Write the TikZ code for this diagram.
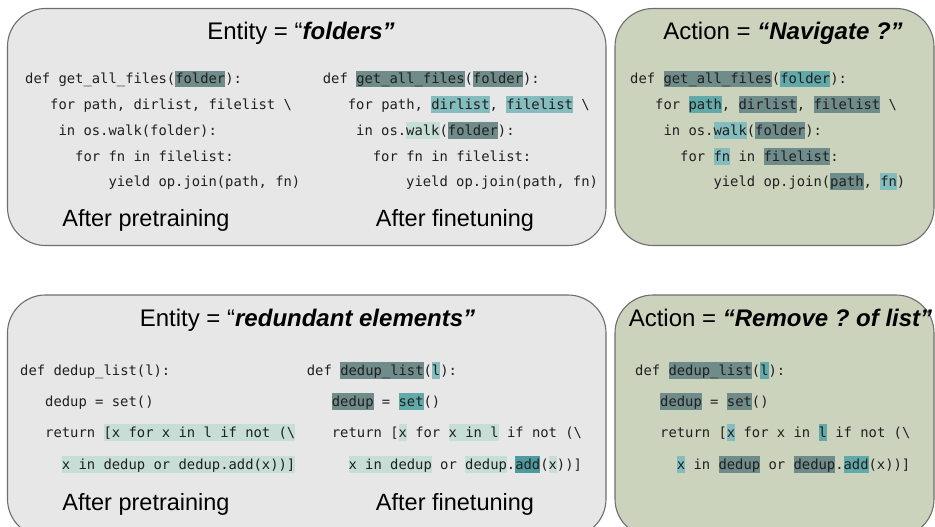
\documentclass[tikz,border=0pt]{standalone}
\usepackage{fontspec}
\setmainfont{Liberation Sans}
\newfontfamily\codefont{DejaVu Sans Mono}
\frenchspacing
\definecolor{panelgray}{HTML}{E7E7E7}
\definecolor{panelgreen}{HTML}{CBD3BC}
\definecolor{panelborder}{HTML}{6E6E6E}
\definecolor{txt}{HTML}{202020}
\definecolor{hlD}{HTML}{6F8C8A}
\definecolor{hlT}{HTML}{62A9AA}
\definecolor{hlM}{HTML}{85BCBD}
\definecolor{hlL}{HTML}{C6DED5}
\definecolor{hlA}{HTML}{4F9A9E}
\newcommand\hlbox[2]{{\setlength{\fboxsep}{0pt}\colorbox{#1}{\rule[-3.5pt]{0pt}{17pt}#2}}}
\newcommand\HD[1]{\hlbox{hlD}{#1}}
\newcommand\HT[1]{\hlbox{hlT}{#1}}
\newcommand\HM[1]{\hlbox{hlM}{#1}}
\newcommand\HL[1]{\hlbox{hlL}{#1}}
\newcommand\HA[1]{\hlbox{hlA}{#1}}
\tikzset{
  panelbox/.style={draw=panelborder, line width=1.1pt, rounded corners=38pt},
  codeln/.style={inner sep=0pt, anchor=base west, text=txt, font=\codefont\fontsize{13.85}{16}\selectfont},
  titletext/.style={inner sep=0pt, anchor=base, text=black, font=\fontsize{24}{28}\selectfont},
  captext/.style={inner sep=0pt, anchor=base, text=black, font=\fontsize{23.5}{28}\selectfont}
}
\begin{document}
\begin{tikzpicture}[x=1pt,y=-1pt]
\useasboundingbox (0,0) rectangle (935,527);
\clip (0,0) rectangle (935,527);
% panels
\draw[panelbox, fill=panelgray] (7.5,8.5) rectangle (606,245.5);
\draw[panelbox, fill=panelgreen] (615,8.5) rectangle (934,245.5);
\draw[panelbox, fill=panelgray] (7.5,295) rectangle (606,537);
\draw[panelbox, fill=panelgreen] (615,295) rectangle (934,537);

% titles
\node[titletext] (t1) at (301,40) {Entity = “\textbf{\textit{folders”}}};
\node[titletext] (t2) at (783,40) {Action = \textbf{\textit{“Navigate ?”}}};
\node[titletext] (t3) at (307.5,326) {Entity = “\textbf{\textit{redundant elements”}}};
\node[titletext] (t4) at (780.5,326) {Action = \textbf{\textit{“Remove ? of list”}}};

% captions
\node[captext] (c1) at (146,226.5) {After pretraining};
\node[captext] (c2) at (455,226.5) {After finetuning};
\node[captext] (c3) at (146,510) {After pretraining};
\node[captext] (c4) at (455,510) {After finetuning};

% top-left code
\node[codeln] (a1) at (25,84) {def get\_all\_files(\HD{folder}):};
\node[codeln] (a2) at (50,109.7) {for path, dirlist, filelist \textbackslash};
\node[codeln] (a3) at (58.3,135.4) {in os.walk(folder):};
\node[codeln] (a4) at (75,161.1) {for fn in filelist:};
\node[codeln] (a5) at (108.3,186.8) {yield op.join(path, fn)};

% top-middle code
\node[codeln] (b1) at (322.7,84) {def \HD{get\_all\_files}(\HD{folder}):};
\node[codeln] (b2) at (347.7,109.7) {for path, \HM{dirlist}, \HM{filelist} \textbackslash};
\node[codeln] (b3) at (356,135.4) {in os.\HL{walk}(\HD{folder}):};
\node[codeln] (b4) at (372.7,161.1) {for fn in filelist:};
\node[codeln] (b5) at (406,186.8) {yield op.join(path, fn)};

% top-right code
\node[codeln] (r1) at (630,84) {def \HD{get\_all\_files}(\HT{folder}):};
\node[codeln] (r2) at (655,109.7) {for \HT{path}, \HD{dirlist}, \HD{filelist} \textbackslash};
\node[codeln] (r3) at (663.3,135.4) {in os.\HM{walk}(\HD{folder}):};
\node[codeln] (r4) at (680,161.1) {for \HM{fn} in \HD{filelist}:};
\node[codeln] (r5) at (713.3,186.8) {yield op.join(\HD{path}, \HM{fn})};

% bottom-left code
\node[codeln] (d1) at (20,375) {def dedup\_list(l):};
\node[codeln] (d2) at (45,406.7) {dedup = set()};
\node[codeln] (d3) at (45,437.7) {return \HL{[x for x in l if not (\textbackslash}};
\node[codeln] (d4) at (61.65,469.3) {\HL{x in dedup or dedup.add(x))]}};

% bottom-middle code
\node[codeln] (e1) at (306.7,375) {def \HD{dedup\_list}(\HM{l}):};
\node[codeln] (e2) at (331.7,406.7) {\HD{dedup} = \HT{set}()};
\node[codeln] (e3) at (331.7,437.7) {return [\HL{x} for \HL{x in l} if not (\textbackslash};
\node[codeln] (e4) at (348.3,469.3) {\HL{x in dedup} or \HL{dedup}.\HA{add}(\HL{x}))]};

% bottom-right code
\node[codeln] (f1) at (635,375) {def \HD{dedup\_list}(\HT{l}):};
\node[codeln] (f2) at (660,406.7) {\HD{dedup} = \HD{set}()};
\node[codeln] (f3) at (660,437.7) {return [\HM{x} for x in \HT{l} if not (\textbackslash};
\node[codeln] (f4) at (676.65,469.3) {\HM{x} in \HD{dedup} or \HD{dedup}.\HT{add}(x))]};
\end{tikzpicture}
\end{document}
